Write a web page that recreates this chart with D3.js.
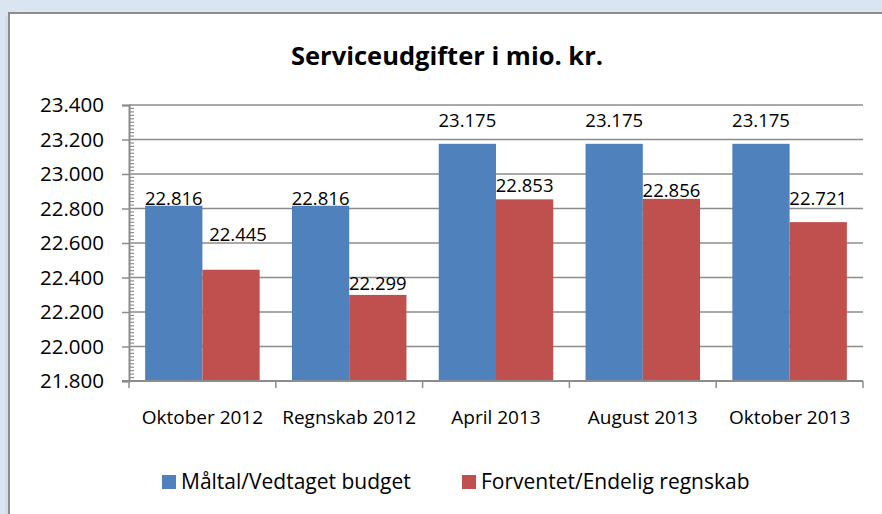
<!DOCTYPE html>
<html>
<head>
<meta charset="utf-8">
<script src="https://cdn.jsdelivr.net/npm/d3@7"></script>
<style>
  body { margin: 0; background: #dbe5f1; }
  svg { display: block; font-family: "Open Sans", sans-serif; }
</style>
</head>
<body>
<svg id="chart"></svg>
<script>
/**
 * Data
 */
const categories = ["Oktober 2012", "Regnskab 2012", "April 2013", "August 2013", "Oktober 2013"];
const budget = [22816, 22816, 23175, 23175, 23175];
const regnskab = [22445, 22299, 22853, 22856, 22721];
const seriesNames = ["Måltal/Vedtaget budget", "Forventet/Endelig regnskab"];
const yTicks = [21800, 22000, 22200, 22400, 22600, 22800, 23000, 23200, 23400];
const title = "Serviceudgifter i mio. kr.";

// label nudges (px) - excel put them a bit all over the place
const labelLift = [[1, 1, 17, 17, 17], [29, 5, 7, 2, 17]];
const labelShift = [[0, 0, 0, 0, 0], [7, 0, 0, 0, 0]];

const colors = ["#4f81bd", "#c0504d"];
const width = 882, height = 514;
const plot = { left: 129, right: 863, top: 105, bottom: 381 };

const svg = d3.select("#chart").attr("width", width).attr("height", height);
const da = d3.formatLocale({ decimal: ",", thousands: ".", grouping: [3], currency: ["", " kr."] });
const fmt = da.format(",d");

// frame
svg.append("rect")
   .attr("x", 5).attr("y", 16).attr("width", 4).attr("height", height)
   .attr("fill", "#d2dbe6");
svg.append("rect")
   .attr("x", 9).attr("y", 13).attr("width", 900).attr("height", 540)
   .attr("fill", "#fff").attr("stroke", "#8c8c8c").attr("stroke-width", 2);

// scales
const x0 = d3.scaleBand()
             .domain(categories)
             .range([plot.left, plot.right])
             .paddingInner(0.22)
             .paddingOuter(0.11);
const x1 = d3.scaleBand()
             .domain([0, 1])
             .range([0, x0.bandwidth()]);
const y = d3.scaleLinear()
            .domain([d3.min(yTicks), d3.max(yTicks)])
            .range([plot.bottom, plot.top]);

// gridlines
svg.append("g")
   .selectAll("line")
   .data(yTicks.slice(1))
   .enter().append("line")
   .attr("x1", plot.left).attr("x2", plot.right)
   .attr("y1", d => y(d)).attr("y2", d => y(d))
   .attr("stroke", "#8c8c8c").attr("stroke-width", 1.5);

// y axis
const yAxis = d3.axisLeft(y).tickValues(yTicks).tickFormat(fmt).tickSize(7).tickPadding(18);
const gy = svg.append("g")
              .attr("transform", "translate(" + plot.left + ",0)")
              .call(yAxis);
gy.select(".domain").attr("stroke", "#8c8c8c").attr("stroke-width", 2);
gy.selectAll(".tick line").attr("stroke", "#8c8c8c").attr("stroke-width", 1.5);
gy.selectAll(".tick text")
  .attr("font-size", 20.5).attr("fill", "#000")
  .attr("font-family", "Open Sans, sans-serif");

// minor ticks
const minor = d3.range(d3.min(yTicks), d3.max(yTicks), 20).filter(v => v % 200 !== 0);
svg.append("g")
   .selectAll("line")
   .data(minor)
   .enter().append("line")
   .attr("x1", plot.left).attr("x2", plot.left + 5)
   .attr("y1", d => y(d)).attr("y2", d => y(d))
   .attr("stroke", "#8c8c8c").attr("stroke-width", 1.2);

// bars
const rows = categories.map((c, i) => ({ cat: c, i: i, vals: [budget[i], regnskab[i]] }));
const groups = svg.append("g")
                  .selectAll("g")
                  .data(rows)
                  .enter().append("g")
                  .attr("transform", d => "translate(" + x0(d.cat) + ",0)");

groups.selectAll("rect")
      .data(d => d.vals.map((v, s) => ({ v: v, s: s, i: d.i })))
      .enter().append("rect")
      .attr("x", d => x1(d.s))
      .attr("y", d => y(d.v))
      .attr("width", x1.bandwidth())
      .attr("height", d => y.range()[0] - y(d.v))
      .attr("fill", d => colors[d.s]);

groups.selectAll("text")
      .data(d => d.vals.map((v, s) => ({ v: v, s: s, i: d.i })))
      .enter().append("text")
      .attr("x", d => x1(d.s) + x1.bandwidth() / 2 + labelShift[d.s][d.i])
      .attr("y", d => y(d.v) - labelLift[d.s][d.i])
      .attr("text-anchor", "middle")
      .attr("font-size", 18.5)
      .attr("fill", "#000")
      .text(d => fmt(d.v));

// x axis
const gx = svg.append("g")
              .attr("transform", "translate(0," + plot.bottom + ")");
gx.append("line")
  .attr("x1", plot.left - 7).attr("x2", plot.right)
  .attr("stroke", "#8c8c8c").attr("stroke-width", 2);
gx.selectAll(".xt")
  .data(categories.concat(["end"]))
  .enter().append("line")
  .attr("class", "xt")
  .attr("x1", (d, i) => i < categories.length ? x0(d) - x0.step() * x0.paddingOuter() : plot.right)
  .attr("x2", (d, i) => i < categories.length ? x0(d) - x0.step() * x0.paddingOuter() : plot.right)
  .attr("y1", 0).attr("y2", 7)
  .attr("stroke", "#8c8c8c").attr("stroke-width", 1.5);
gx.selectAll("text")
  .data(categories)
  .enter().append("text")
  .attr("x", d => x0(d) + x0.bandwidth() / 2)
  .attr("y", 43)
  .attr("text-anchor", "middle")
  .attr("font-size", 19)
  .attr("fill", "#000")
  .text(d => d);

// title
svg.append("text")
   .attr("x", 447).attr("y", 65)
   .attr("text-anchor", "middle")
   .attr("font-size", 25.5).attr("font-weight", "bold")
   .attr("fill", "#000")
   .text(title);

// legend
const legendX = [162, 462];
const legend = svg.append("g").attr("transform", "translate(0,475)");
seriesNames.forEach(function (name, i) {
  legend.append("rect")
        .attr("x", legendX[i]).attr("y", 0)
        .attr("width", 14).attr("height", 14)
        .attr("fill", colors[i]);
  legend.append("text")
        .attr("x", legendX[i] + 19).attr("y", 13.5)
        .attr("font-size", 21)
        .attr("fill", "#000")
        .text(name);
});
</script>
</body>
</html>
